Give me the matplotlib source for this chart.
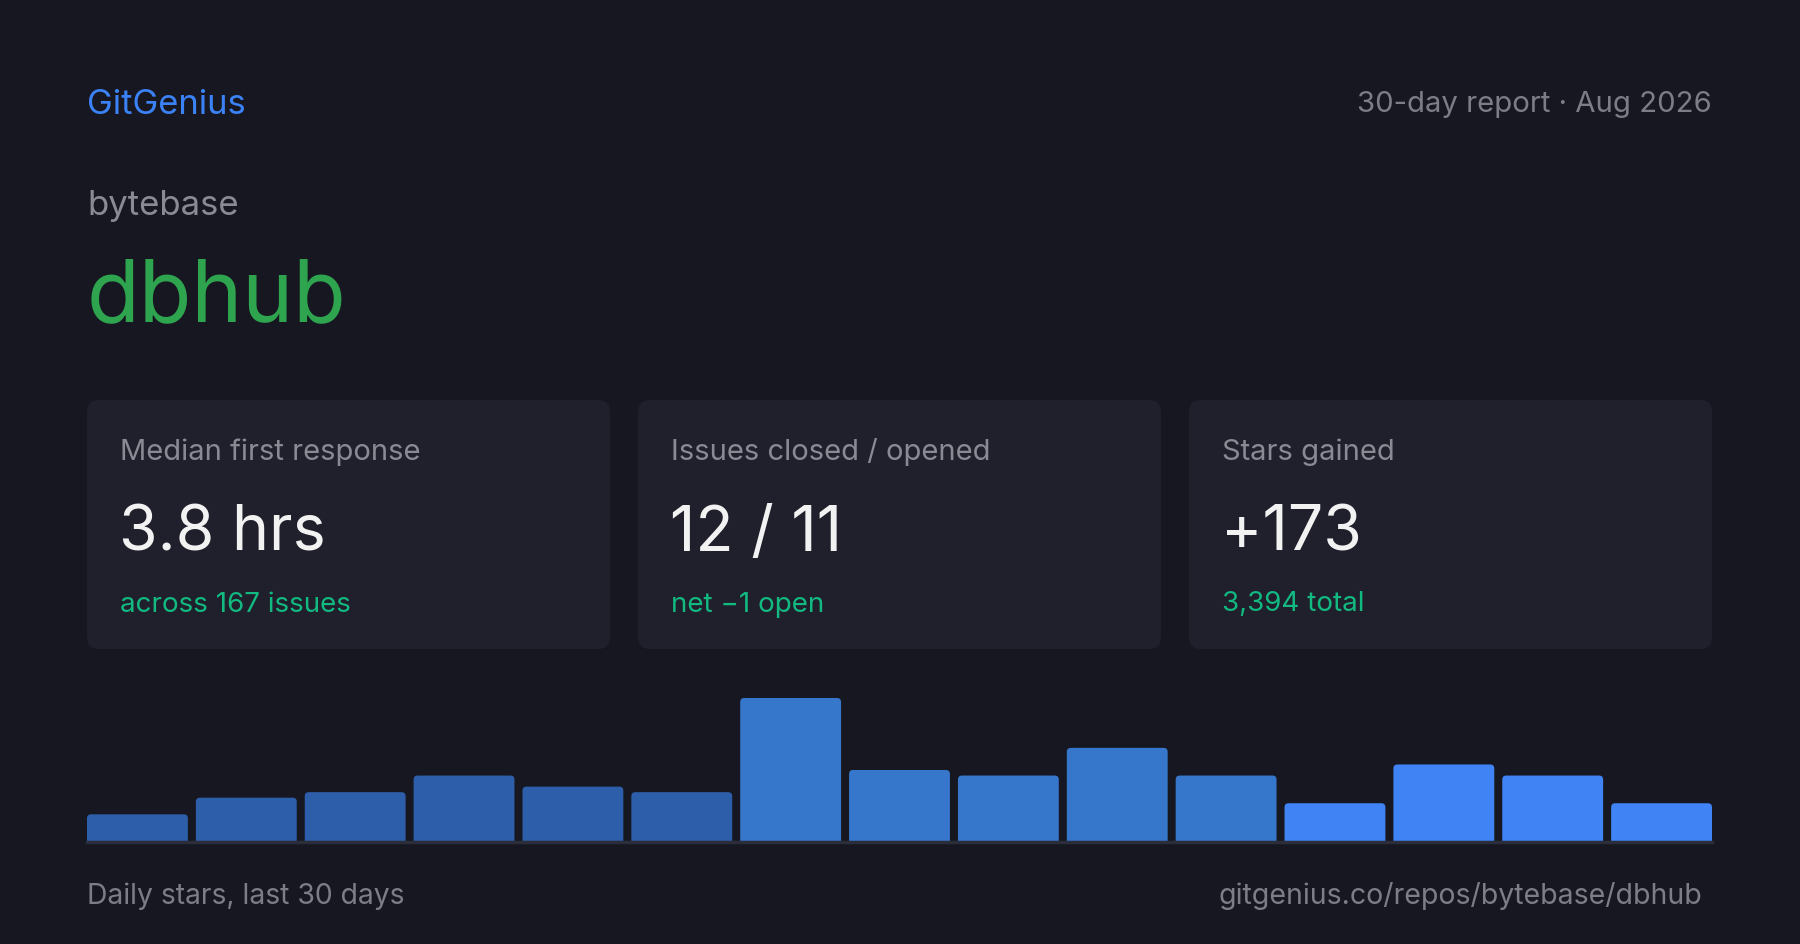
import matplotlib
matplotlib.use("Agg")
import matplotlib.pyplot as plt
from matplotlib.patches import FancyBboxPatch

plt.rcParams['font.family'] = ['Inter', 'DejaVu Sans']

# data
brand = "GitGenius"
report = "30-day report \u00b7 Aug 2026"
owner = "bytebase"
repo = "dbhub"
card_labels = ["Median first response", "Issues closed / opened", "Stars gained"]
card_values = ["3.8 hrs", "12 / 11", "+173"]
card_subs = ["across 167 issues", "net \u22121 open", "3,394 total"]
daily_stars = [5, 8, 9, 12, 10, 9, 26, 13, 12, 17, 12, 7, 14, 12, 7]
bar_colors = ["#2d5ea9"] * 6 + ["#3677cb"] * 5 + ["#3f83f4"] * 4
footer_left = "Daily stars, last 30 days"
footer_right = "gitgenius.co/repos/bytebase/dbhub"

BG = "#161720"
CARD = "#1f202b"
GRAY = "#8a8a94"
MUTED = "#7d7d87"

W, H = 1800, 945
fig = plt.figure(figsize=(W / 100, H / 100), dpi=100, facecolor=BG)

# pixel-space overlay for text and cards
ax = fig.add_axes([0, 0, 1, 1])
ax.set_xlim(0, W)
ax.set_ylim(H, 0)
ax.axis('off')

ax.text(87, 104.5, brand, color="#3b82f6", fontsize=24.9, va='center', ha='left')
ax.text(1712, 104.5, report, color=MUTED, fontsize=21.1, va='center', ha='right')
ax.text(87, 205.5, owner, color=GRAY, fontsize=25, va='center', ha='left')
ax.text(87, 299, repo, color="#2ea44f", fontsize=62, va='center', ha='left')

card_x = [87, 638, 1189]
card_w = 523
for i in range(3):
    x0 = card_x[i]
    box = FancyBboxPatch((x0, 401), card_w, 249, boxstyle="round,pad=0,rounding_size=12",
                         facecolor=CARD, edgecolor='none')
    ax.add_patch(box)
    ax.text(x0 + 33, 452.5, card_labels[i], color=GRAY, fontsize=21, va='center')
    ax.text(x0 + 32, 534, card_values[i], color="#f2f2f2", fontsize=45, va='center')
    ax.text(x0 + 33, 604.5, card_subs[i], color="#12b981", fontsize=20, va='center')

ax.text(87, 896, footer_left, color=MUTED, fontsize=20.4, va='center', ha='left')
ax.text(1702, 896, footer_right, color=MUTED, fontsize=20.5, va='center', ha='right')

# bar chart
bx0, bx1 = 87, 1712
by_base, by_top = 843, 699
bax = fig.add_axes([bx0 / W, 1 - by_base / H, (bx1 - bx0) / W, (by_base - by_top) / H])
bax.set_facecolor('none')
n = len(daily_stars)
pitch_px = (bx1 - bx0 + 8) / n
gap = 8 / pitch_px
bars = bax.bar(range(n), daily_stars, width=1 - gap, color=bar_colors, align='center')
bax.set_xlim(-0.5 + gap / 2, n - 0.5 - gap / 2)
bax.set_ylim(0, max(daily_stars))
bax.axis('off')

# swap the plain rectangles for ones with slightly rounded tops
x_per_px = 1 / pitch_px
y_per_px = max(daily_stars) / (by_base - by_top)
r = 4 * x_per_px
aspect = y_per_px / x_per_px
for rect in bars.patches:
    x, w, h = rect.get_x(), rect.get_width(), rect.get_height()
    rb = FancyBboxPatch((x, -r * aspect), w, h + r * aspect,
                        boxstyle=f"round,pad=0,rounding_size={r}",
                        mutation_aspect=aspect,
                        facecolor=rect.get_facecolor(), edgecolor='none')
    rect.set_visible(False)
    bax.add_patch(rb)

bax.axhline(0, color="#2b2d3a", lw=2.5, clip_on=False)

fig.savefig("out.png", dpi=100, facecolor=BG)
